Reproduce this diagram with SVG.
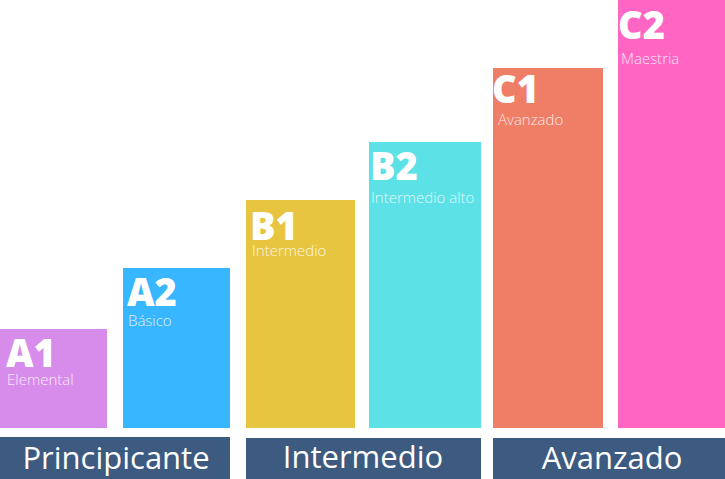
<svg xmlns="http://www.w3.org/2000/svg" width="725" height="479" viewBox="0 0 725 479">
<style>
.big{font-family:"Open Sans","Noto Sans",sans-serif;font-weight:800;font-size:38px;fill:#ffffff}
.sub{font-family:"Open Sans","Noto Sans",sans-serif;font-weight:300;font-size:15px;fill:#ffffff;fill-opacity:0.85}
.band{fill:#3d5a80}
.bt{font-family:"Open Sans","Noto Sans",sans-serif;font-weight:400;font-size:31px;fill:#ffffff;text-anchor:middle}
</style>
<rect width="725" height="479" fill="#ffffff"/>
<g id="A1"><rect x="0" y="329" width="107" height="99" fill="#d78bea"/><text class="big" x="6" y="367">A1</text><text class="sub" x="7" y="385">Elemental</text></g>
<g id="A2"><rect x="123" y="268" width="107" height="160" fill="#38b6ff"/><text class="big" x="127" y="306">A2</text><text class="sub" x="128" y="326">Básico</text></g>
<g id="B1"><rect x="246" y="200" width="109" height="228" fill="#e8c540"/><text class="big" x="250" y="240">B1</text><text class="sub" x="252" y="256">Intermedio</text></g>
<g id="B2"><rect x="369" y="142" width="112" height="286" fill="#5ce1e6"/><text class="big" x="370" y="180">B2</text><text class="sub" x="371" y="203">Intermedio alto</text></g>
<g id="C1"><rect x="493" y="68" width="110" height="360" fill="#ef7e67"/><text class="big" x="492" y="103">C1</text><text class="sub" x="498" y="125">Avanzado</text></g>
<g id="C2"><rect x="618" y="0" width="107" height="428" fill="#ff66c4"/><text class="big" x="618" y="39">C2</text><text class="sub" x="621" y="64">Maestria</text></g>
<g id="principiante"><rect class="band" x="0" y="437" width="230" height="42"/><text class="bt" x="116" y="469">Principicante</text></g>
<g id="intermedio"><rect class="band" x="246" y="438" width="235" height="41"/><text class="bt" x="363" y="468">Intermedio</text></g>
<g id="avanzado"><rect class="band" x="493" y="438" width="232" height="41"/><text class="bt" x="612" y="469">Avanzado</text></g>
<g id="connectors"/>
</svg>
